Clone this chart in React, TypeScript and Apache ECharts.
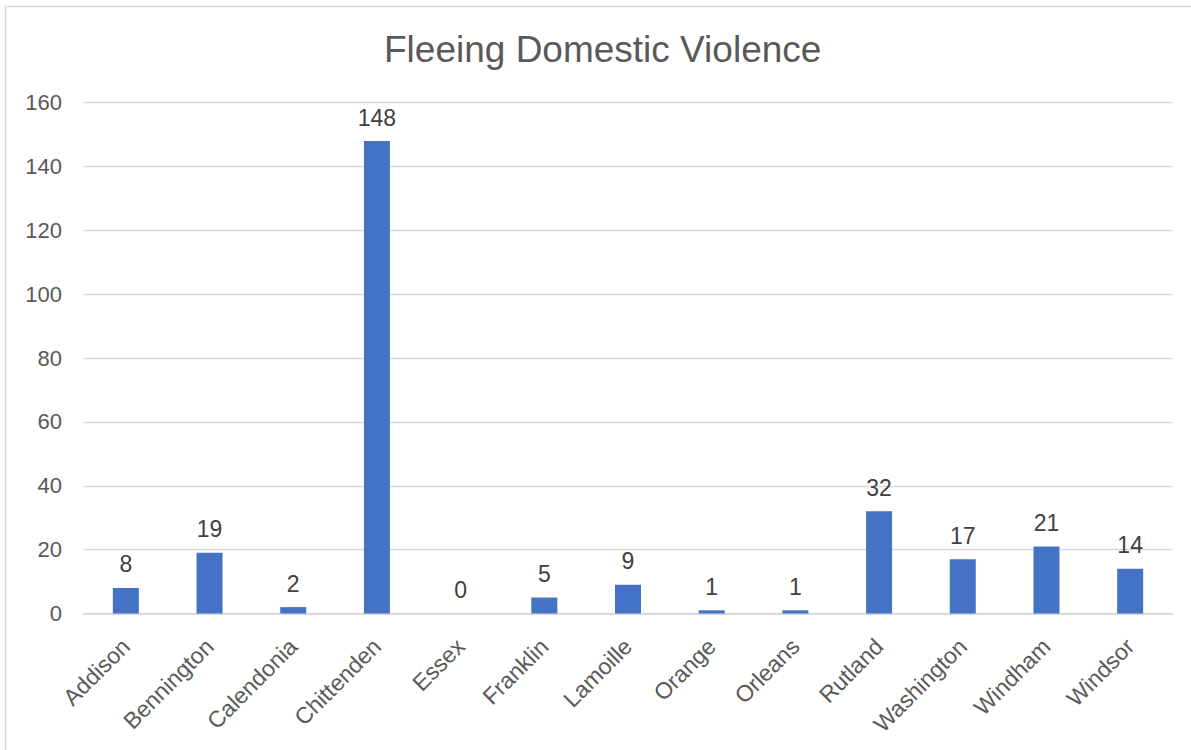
import React, { useEffect, useRef } from "react";
import * as echarts from "echarts";

const categories = ["Addison", "Bennington", "Calendonia", "Chittenden", "Essex", "Franklin", "Lamoille", "Orange", "Orleans", "Rutland", "Washington", "Windham", "Windsor"];
const values = [8, 19, 2, 148, 0, 5, 9, 1, 1, 32, 17, 21, 14];
const title = "Fleeing Domestic Violence";

const FONT = "'Liberation Sans', Arial, sans-serif";

export default function App() {
  const ref = useRef<HTMLDivElement>(null);
  useEffect(() => {
    if (!ref.current) return;
    const chart = echarts.init(ref.current, undefined, { renderer: "svg" });
    chart.setOption({
      animation: false,
      backgroundColor: "#ffffff",
      textStyle: { fontFamily: FONT },
      title: {
        text: title,
        left: 379,
        top: 26,
        textStyle: { fontFamily: FONT, fontSize: 37, fontWeight: "normal", color: "#595959" },
      },
      graphic: [
        {
          type: "rect",
          shape: { x: 5.5, y: 6.5, width: 1190, height: 750 },
          style: { fill: "none", stroke: "#d9d9d9", lineWidth: 1.5 },
          silent: true,
        },
      ],
      grid: { left: 84, right: 19, top: 102.7, bottom: 136.5, containLabel: false },
      xAxis: {
        type: "category",
        data: categories,
        axisLine: { show: true, lineStyle: { color: "#d9d9d9", width: 2 } },
        axisTick: { show: false },
        axisLabel: {
          rotate: 45,
          interval: 0,
          margin: 29,
          fontFamily: FONT,
          fontSize: 23,
          color: "#595959",
        },
      },
      yAxis: {
        type: "value",
        min: 0,
        max: 160,
        interval: 20,
        axisLine: { show: false },
        axisTick: { show: false },
        splitLine: { lineStyle: { color: "#d9d9d9", width: 1.3 } },
        axisLabel: { fontFamily: FONT, fontSize: 22, color: "#595959", margin: 22 },
      },
      series: [
        {
          type: "bar",
          data: values,
          barWidth: 26,
          itemStyle: { color: "#4472c4" },
          label: {
            show: true,
            position: "top",
            distance: 12,
            fontFamily: FONT,
            fontSize: 23,
            color: "#404040",
          },
        },
      ],
    });
    return () => chart.dispose();
  }, []);
  return <div ref={ref} style={{ position: "absolute", left: 0, top: 0, width: 1191, height: 750 }} />;
}
